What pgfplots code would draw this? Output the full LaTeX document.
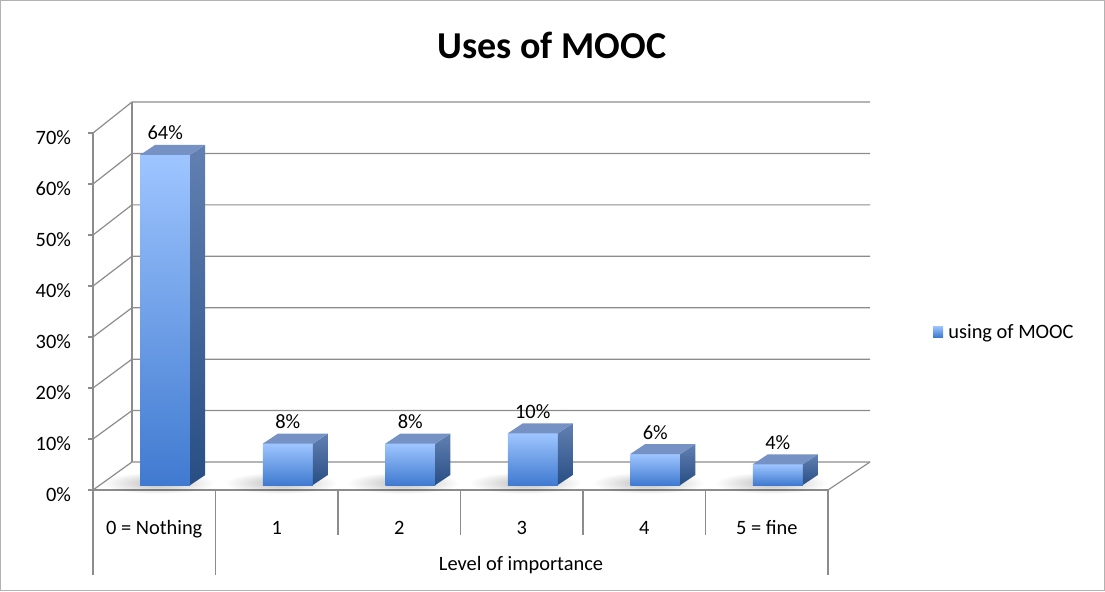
\documentclass[border=0pt]{standalone}
\usepackage{pgfplots}
\pgfplotsset{compat=1.18}
\usepackage{pgfplotstable}
\usepackage{fontspec}
\setmainfont{Carlito}
\usetikzlibrary{fadings}

\definecolor{frontTop}{RGB}{158,197,255}
\definecolor{frontBot}{RGB}{64,122,208}
\definecolor{sideTop}{RGB}{98,128,178}
\definecolor{sideBot}{RGB}{40,78,132}
\definecolor{topFace}{RGB}{118,146,196}
\definecolor{gridgray}{RGB}{140,140,140}

\tikzfading[name=softshadow, inner color=transparent!25, outer color=transparent!100]

% share of answers per level
\pgfplotstableread{
idx v
0 64
1 8
2 8
3 10
4 6
5 4
}\moocdata

% one 3d bar, drawn at the category centre, height from \val
\pgfdeclareplotmark{bar3d}{%
  \fill[black, draw=none, opacity=0.35, path fading=softshadow] (2pt,3.5pt) ellipse (28pt and 5.5pt);
  \shade[draw=none, top color=frontTop, bottom color=frontBot] (-7pt,2.5pt) rectangle (18pt,{2.5pt+\val*2.58pt});
  \shade[draw=none, top color=sideTop, bottom color=sideBot] (18pt,2.5pt) -- (18pt,{2.5pt+\val*2.58pt})
    -- (25.5pt,{7.5pt+\val*2.58pt}) -- (25.5pt,7.5pt) -- cycle;
  \fill[draw=none, topFace] (-7pt,{2.5pt+\val*2.58pt}) -- (18pt,{2.5pt+\val*2.58pt})
    -- (25.5pt,{7.5pt+\val*2.58pt}) -- (0.5pt,{7.5pt+\val*2.58pt}) -- cycle;
  \node[font=\fontsize{10.2}{12}\selectfont, anchor=base, inner sep=0pt]
    at (5.5pt,{10pt+\val*2.58pt}) {\pgfmathprintnumber[assume math mode=true]{\val}\%};
}

\begin{document}
\begin{tikzpicture}
\useasboundingbox (0,0) rectangle (552.5pt,-295.5pt);
\draw[gray!60, line width=0.5pt] (0.25pt,-0.25pt) rectangle (552.25pt,-295.25pt);
\node[font=\fontsize{19}{22}\selectfont\bfseries, anchor=base] at (276pt,-29pt) {Uses of MOOC};

\begin{axis}[
    at={(46.5pt,-245pt)}, anchor=south west,
    x=61.25pt, y=2.55pt,
    xmin=0, xmax=6, ymin=0, ymax=70,
    clip=false,
    axis lines*=left,
    axis line style={gridgray, line width=0.6pt},
    tick align=outside,
    major tick length=2.5pt,
    ytick={0,10,...,70},
    yticklabel={\pgfmathprintnumber{\tick}\%},
    y tick style={gridgray, line width=0.6pt},
    yticklabel style={anchor=east, xshift=-5pt, yshift=-2.5pt},
    xtick={0.5,1.5,2.5,3.5,4.5,5.5},
    xticklabels={0 = Nothing,1,2,3,4,5 = fine},
    xtick style={draw=none},
    xticklabel style={anchor=base, yshift=-19.75pt},
    tick label style={font=\fontsize{10.2}{12}\selectfont},
    /pgf/number format/assume math mode=true,
]
% back wall and left wall
\pgfplotsinvokeforeach{0,...,7}{
  \draw[gridgray, line width=0.6pt] (axis cs:0,#1*10) -- (axis cs:0.318,#1*10.084+5.49)
    -- (axis cs:6.343,#1*10.084+5.49);
}
\draw[gridgray, line width=0.6pt] (axis cs:0.318,5.49) -- (axis cs:0.318,76.08);
% floor right edge
\draw[gridgray, line width=0.6pt] (axis cs:6,0) -- (axis cs:6.343,5.49);

\addplot[only marks, mark=bar3d,
    visualization depends on={\thisrow{v} \as \val}]
  table[x expr=\thisrow{idx}+0.5, y expr=0] {\moocdata};

% category separators
\pgfplotsinvokeforeach{2,3,4,5}{
  \draw[gridgray, line width=0.6pt] (axis cs:#1,0) -- ++(0,-22.5pt);
}
\pgfplotsinvokeforeach{0,1,6}{
  \draw[gridgray, line width=0.6pt] (axis cs:#1,0) -- ++(0,-42.5pt);
}
\end{axis}

\node[font=\fontsize{10.2}{12}\selectfont, anchor=base] at (260.5pt,-285pt) {Level of importance};

% legend
\shade[draw=none, top color=frontTop, bottom color=frontBot] (466.5pt,-163pt) rectangle (471.5pt,-168.5pt);
\node[font=\fontsize{10.2}{12}\selectfont, anchor=base west, inner sep=0pt] at (474pt,-169pt) {using of MOOC};
\end{tikzpicture}
\end{document}
